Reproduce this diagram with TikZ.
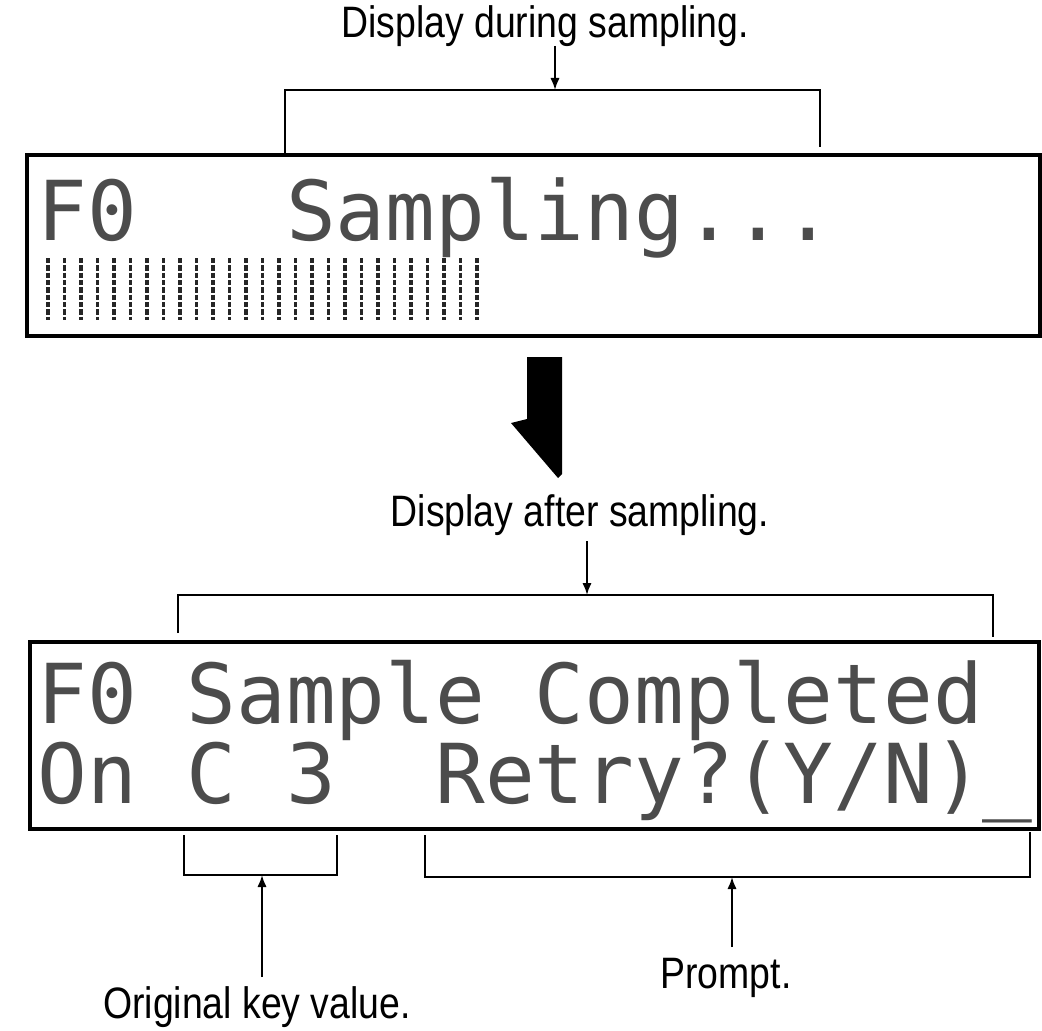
\documentclass[tikz,border=0pt]{standalone}
\usepackage{fontspec}
\usetikzlibrary{arrows.meta}
\newfontfamily\lcdfont{DejaVu Sans Mono}
\newfontfamily\labelfont[FakeStretch=0.85]{Liberation Sans}
\definecolor{lcdInk}{gray}{0.3}

\begin{document}
\begin{tikzpicture}[
        x=0.75pt, y=-0.75pt,
        screen/.style={draw, line width=3pt},
        lcd/.style={anchor=base west, inner sep=0pt, text=lcdInk,
            font=\lcdfont\fontsize{62}{62}\selectfont},
        lbl/.style={anchor=base, inner sep=0pt, font=\labelfont\fontsize{33}{33}\selectfont},
        brk/.style={line width=1.5pt},
        ptr/.style={line width=1.5pt, -{Latex[length=9pt, width=7pt]}},
        bar/.style={black!85, line width=2.8pt, dash pattern=on 4pt off 1.5pt}
    ]
    \useasboundingbox (0,0) rectangle (1042,1031);

    % screen while sampling
    \node[lbl] (during) at (545,38) {Display during sampling.};
    \coordinate (durtail) at (555,46);
    \coordinate (durtip) at (555,90);
    \draw[brk] (285,155) -- (285,90) -- (820,90) -- (820,147);
    \draw[ptr] (durtail) -- (durtip);
    \draw[screen] (27,155) rectangle (1040,336);
    \node[lcd] (runrow) at (37,240) {F0\ \ \ Sampling...};
    \foreach \i in {0,...,26}
        \draw[bar] ({48+16.5*\i},258) -- ({48+16.5*\i},320);

    % big arrow
    \fill (527,357) -- (562,357) -- (562,474) -- (558,478) -- (511,423) -- (527,419) -- cycle;

    % screen after sampling
    \node[lbl] (after) at (580,526) {Display after sampling.};
    \coordinate (afttail) at (587,541);
    \coordinate (afttip) at (587,595);
    \draw[brk] (178,633) -- (178,595) -- (993,595) -- (993,637);
    \draw[ptr] (afttail) -- (afttip);
    \draw[screen] (30,642) rectangle (1039,829);
    \node[lcd] (donerow) at (37,723) {F0 Sample Completed};
    \node[lcd] (keyrow) at (37,803) {On C 3\ \ Retry?(Y/N)\_};

    % key and prompt
    \draw[brk] (184,835) -- (184,875) -- (337,875) -- (337,835);
    \draw[brk] (425,835) -- (425,877) -- (1030,877) -- (1030,832);
    \node[lbl] (keyval) at (257,1018) {Original key value.};
    \node[lbl] (prompt) at (726,988) {Prompt.};
    \coordinate (keytail) at (262,977);
    \coordinate (keytip) at (262,875);
    \coordinate (prmtail) at (732,947);
    \coordinate (prmtip) at (732,877);
    \draw[ptr] (keytail) -- (keytip);
    \draw[ptr] (prmtail) -- (prmtip);
\end{tikzpicture}
\end{document}
